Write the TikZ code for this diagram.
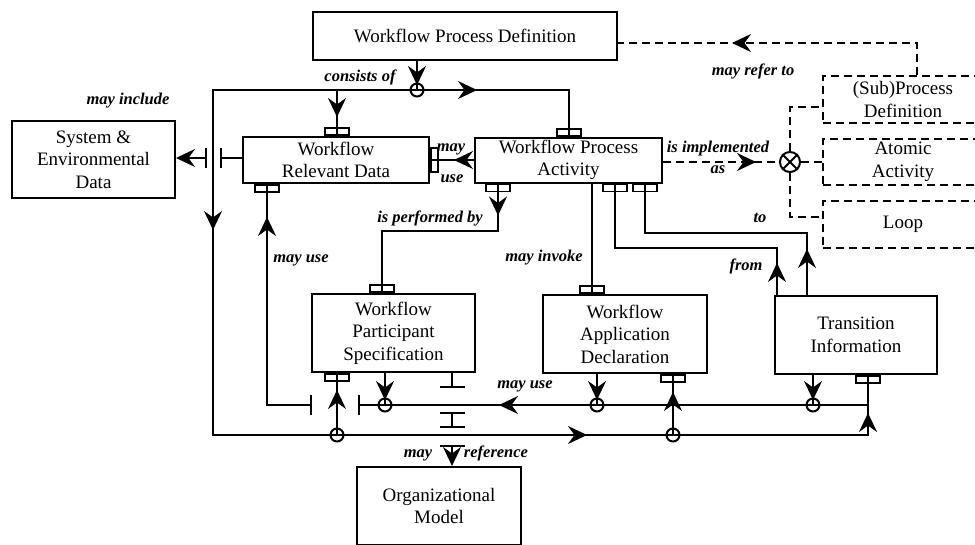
\documentclass[tikz,border=0pt]{standalone}
\usepackage{fontspec}
\setmainfont{Liberation Serif}
\usetikzlibrary{arrows.meta,decorations.markings}
\tikzset{
  St/.tip={Stealth[length=19pt,width=18pt,inset=6.5pt]},
  Tb/.tip={Bar[width=20pt]},
  Tc/.tip={Bar[width=25pt]},
}
\begin{document}
\begin{tikzpicture}[x=1pt,y=-1pt, line width=2pt,
  box/.style={draw, align=center, inner sep=0pt, font=\fontsize{19}{22.5}\selectfont},
  dsh/.style={dash pattern=on 8pt off 5pt},
  dbox/.style={box, dsh},
  lbl/.style={font=\fontsize{16.5}{18}\selectfont\bfseries\itshape, inner sep=0pt, text height=11pt, text depth=3pt},
  tab/.style={draw, minimum width=24pt, minimum height=7pt, inner sep=0pt, line width=1.8pt},
  vtab/.style={draw, minimum width=7pt, minimum height=24pt, inner sep=0pt, line width=1.8pt},
  junc/.style={draw, circle, minimum size=13pt, inner sep=0pt},
  marr/.style={postaction={decorate, decoration={markings, mark=at position #1 with {\arrow{St}}}}},
]
\clip (0,0) rectangle (975,544);
\fill[white] (0,0) rectangle (975,544);

% boxes
\node[box, minimum width=304pt, minimum height=48pt] (WPD) at (465,36) {Workflow Process Definition};
\node[box, minimum width=163pt, minimum height=77pt] (SED) at (93.5,159.5) {System \&\\Environmental\\Data};
\node[box, minimum width=186pt, minimum height=46pt] (WRD) at (336,160) {Workflow\\Relevant Data};
\node[box, minimum width=187pt, minimum height=45pt] (WPA) at (568.5,160) {Workflow Process\\Activity};
\node[box, minimum width=163pt, minimum height=78pt] (WPS) at (393.5,333) {Workflow\\Participant\\Specification};
\node[box, minimum width=164pt, minimum height=78pt] (WAD) at (625,334) {Workflow\\Application\\Declaration};
\node[box, minimum width=162pt, minimum height=78pt] (TI) at (856,335) {Transition\\Information};
\node[box, minimum width=164pt, minimum height=78pt] (OM) at (439,506) {Organizational\\Model};
\node[dbox, minimum width=160pt, minimum height=47pt] (SP) at (903,99.5) {(Sub)Process\\Definition};
\node[dbox, minimum width=160pt, minimum height=46pt] (AA) at (903,162) {Atomic\\Activity};
\node[dbox, minimum width=160pt, minimum height=47pt] (LP) at (903,224.5) {Loop};

% junctions
\node[junc] (c1) at (417,90) {};
\node[junc] (c2) at (337,435) {};
\node[junc] (c3) at (673,435) {};
\node[junc] (c4) at (385,405) {};
\node[junc] (c5) at (597,405) {};
\node[junc] (c6) at (813,405) {};
\node[draw, circle, minimum size=20pt, inner sep=0pt] (X) at (790,162) {};
\draw (X.north west) -- (X.south east) (X.north east) -- (X.south west);

% helper coordinates
\coordinate (j1) at (337,90);
\coordinate (k1) at (213,90);
\coordinate (k2) at (213,435);
\coordinate (k3) at (868,435);
\coordinate (k4) at (569,90);
\coordinate (m1) at (312,405);
\coordinate (m2) at (267,405);
\coordinate (n1) at (868,405);
\coordinate (n2) at (358,405);
\coordinate (p1) at (498,231);
\coordinate (p2) at (382,231);
\coordinate (v1) at (592,250);
\coordinate (f1) at (777,248);
\coordinate (f2) at (615,248);
\coordinate (t1) at (807,233);
\coordinate (t2) at (645,233);
\coordinate (i1) at (790,107);
\coordinate (i2) at (790,217);
\coordinate (r1) at (917,43);
\coordinate (s1) at (220,158);
\coordinate (s2) at (207,158);
\coordinate (q1) at (452,388);
\coordinate (q2) at (452,412);
\coordinate (q3) at (452,428);
\coordinate (q4) at (452,445);

% tabs
\node[tab, anchor=south] (tb1) at (j1 |- WRD.north) {};
\node[tab, anchor=south] (tb2) at (k4 |- WPA.north) {};
\node[tab, anchor=north] (tb3) at (p1 |- WPA.south) {};
\node[tab, anchor=north] (tb4) at (f2 |- WPA.south) {};
\node[tab, anchor=north] (tb5) at (t2 |- WPA.south) {};
\node[tab, anchor=north] (tb6) at (m2 |- WRD.south) {};
\node[vtab, anchor=west] (tb7) at (WRD.east) {};
\node[tab, anchor=south] (tb8) at (p2 |- WPS.north) {};
\node[tab, anchor=north] (tb9) at (c2 |- WPS.south) {};
\node[tab, anchor=south] (tb10) at (v1 |- WAD.north) {};
\node[tab, anchor=north] (tb11) at (c3 |- WAD.south) {};
\node[tab, anchor=north] (tb12) at (k3 |- TI.south) {};

% connectors
\draw[marr=24pt] (c1 |- WPD.south) -- (c1.center);
\draw[marr=60pt] (c1.center) -- (k4) -- (k4 |- WPA.north);
\draw[marr=344pt, marr=923pt, marr=1226pt] (c1.center) -- (k1) -- (k2) -- (k3) -- (k3 |- TI.south);
\draw[marr=27pt] (j1) -- (j1 |- WRD.north);
\draw[marr=45pt] (c2.center) -- (c2 |- WPS.south);
\draw[marr=43pt] (c3.center) -- (c3 |- WAD.south);
\draw[{Tb}-, marr=233pt] (m1) -- (m2) -- (m2 |- WRD.south);
\draw[-{Tb}, marr=369pt] (n1) -- (n2);
\draw[marr=27pt] (c4 |- WPS.south) -- (c4.center);
\draw[marr=26pt] (c5 |- WAD.south) -- (c5.center);
\draw[marr=25pt] (c6 |- TI.south) -- (c6.center);
\draw[marr=32pt] (p1 |- WPA.south) -- (p1) -- (p2) -- (p2 |- WPS.north);
\draw (v1 |- WPA.south) -- (v1 |- WAD.north);
\draw[marr=32pt] (f1 |- TI.north) -- (f1) -- (f2) -- (f2 |- WPA.south);
\draw[marr=46pt] (t1 |- TI.north) -- (t1) -- (t2) -- (t2 |- WPA.south);
\draw[marr=20pt] (WPA.west) -- (WRD.east);
\draw[-{Tb}] (WRD.west |- s1) -- (s1);
\draw[{Tb}-{St}] (s2) -- (s2 -| SED.east);
\draw[-{Tc}] (q1 |- WPS.south) -- (q1);
\draw[{Tc}-{Tc}] (q2) -- (q3);
\draw[{Tc}-{St}] (q4) -- (q4 |- OM.north);

% dashed connectors
\draw[dsh, marr=93pt] (WPA.east |- X) -- (X.west);
\draw[dsh] (X.north) -- (i1) -- (i1 -| SP.west);
\draw[dsh] (X.east) -- (X -| AA.west);
\draw[dsh] (X.south) -- (i2) -- (i2 -| LP.west);
\draw[dsh, marr=217pt] (r1 |- SP.north) -- (r1) -- (r1 -| WPD.east);

% labels
\node[lbl] (L1) at (360,77) {consists of};
\node[lbl] (L2) at (128,100) {may include};
\node[lbl] (L3) at (451,147) {may};
\node[lbl] (L4) at (452,178) {use};
\node[lbl] (L5) at (430,218) {is performed by};
\node[lbl] (L6) at (301,258) {may use};
\node[lbl] (L7) at (544,257) {may invoke};
\node[lbl] (L8) at (718,148) {is implemented};
\node[lbl] (L9) at (718,169) {as};
\node[lbl] (L10) at (753,71) {may refer to};
\node[lbl] (L11) at (760,218) {to};
\node[lbl] (L12) at (746,266) {from};
\node[lbl] (L13) at (525,384) {may use};
\node[lbl] (L14) at (418,453) {may};
\node[lbl] (L15) at (496,453) {reference};
\end{tikzpicture}
\end{document}
